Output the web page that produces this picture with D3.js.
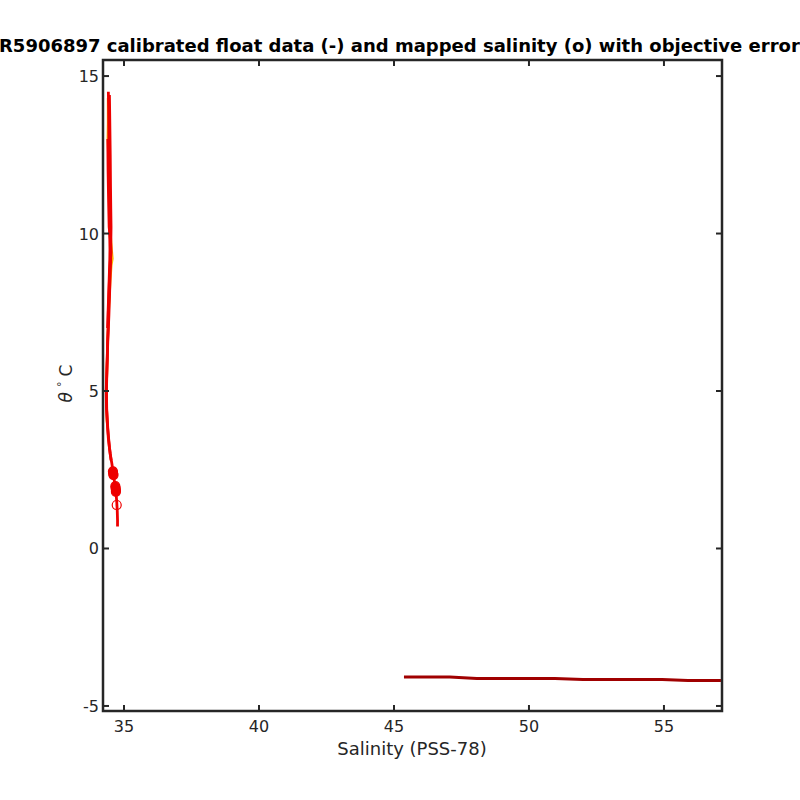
<!DOCTYPE html>
<html><head><meta charset="utf-8">
<script src="https://cdn.jsdelivr.net/npm/d3@7"></script>
<style>body{margin:0;background:#fff}svg{display:block}text{font-family:"DejaVu Sans",sans-serif;fill:#262626}</style>
</head><body><svg id="c" width="800" height="800"></svg>
<script>
const titleText = "R5906897 calibrated float data (-) and mapped salinity (o) with objective errors";
const xLabel = "Salinity (PSS-78)";
const xTicks = [35, 40, 45, 50, 55];
const yTicks = [-5, 0, 5, 10, 15];

// float profiles (theta, salinity)
const orangeTheta = [14.3, 13.5, 13.0, 12.0, 11.0, 10.0, 9.5, 9.2, 9.0, 8.5, 7.5, 6.5, 5.0, 4.0];
const orangeSal   = [34.41, 34.41, 34.40, 34.44, 34.47, 34.50, 34.54, 34.57, 34.53, 34.49, 34.43, 34.39, 34.35, 34.37];
const redATheta = [14.5, 14.0, 13.0, 12.0, 11.0, 10.5, 10.0, 9.5, 9.0, 8.5, 8.0, 7.5, 7.0, 6.5, 6.0, 5.5, 5.0, 4.5, 4.0, 3.5, 3.0, 2.7, 2.4, 2.1, 1.9, 1.7, 1.5, 1.2, 0.9, 0.7];
const redASal   = [34.42, 34.43, 34.44, 34.45, 34.46, 34.46, 34.47, 34.48, 34.47, 34.46, 34.44, 34.42, 34.41, 34.39, 34.38, 34.36, 34.34, 34.35, 34.38, 34.42, 34.49, 34.55, 34.60, 34.65, 34.69, 34.71, 34.73, 34.75, 34.76, 34.76];
const redBTheta = [14.4, 13.8, 12.5, 11.5, 10.8, 10.2, 9.6, 9.0, 8.2, 7.4, 6.6, 5.8, 5.0, 4.4, 3.8, 3.2, 2.8];
const redBSal   = [34.46, 34.47, 34.49, 34.50, 34.51, 34.52, 34.51, 34.50, 34.47, 34.44, 34.40, 34.37, 34.35, 34.36, 34.40, 34.46, 34.52];
const redCTheta = [13.0, 12.0, 11.0, 10.2, 9.8, 9.4, 8.8, 8.0, 7.0];
const redCSal   = [34.40, 34.41, 34.43, 34.45, 34.50, 34.52, 34.46, 34.43, 34.39];

// bad profile near the bottom
const badTheta = [-4.08, -4.08, -4.13, -4.13, -4.16, -4.16, -4.19, -4.19];
const badSal   = [45.37, 47.07, 48.07, 50.96, 52.0, 54.93, 55.89, 57.11];

// mapped salinity with objective errors
const mapTheta = [2.45, 2.38, 2.33, 1.98, 1.92, 1.86, 1.80, 1.38];
const mapSal   = [34.59, 34.60, 34.61, 34.68, 34.69, 34.70, 34.70, 34.73];
const mapErr   = [0.03, 0.03, 0.03, 0.03, 0.03, 0.03, 0.03, 0.03];

const svg = d3.select("#c");
const L = 103, R = 722, T = 60, B = 711;
const x = d3.scaleLinear().domain([34.222, 57.15]).range([L, R]);
const y = d3.scaleLinear().domain([-5.16, 15.51]).range([B, T]);

svg.append("defs").append("clipPath").attr("id", "clip")
  .append("rect").attr("x", L).attr("y", T).attr("width", R - L).attr("height", B - T);

const g = svg.append("g").attr("clip-path", "url(#clip)");
const line = d3.line().x(d => x(d[1])).y(d => y(d[0]));
const zip = (a, b) => a.map((v, i) => [v, b[i]]);

g.append("path").datum(zip(orangeTheta, orangeSal)).attr("d", line)
  .attr("fill", "none").attr("stroke", "#ffb000").attr("stroke-width", 2.5);
[[redBTheta, redBSal], [redCTheta, redCSal], [redATheta, redASal]].forEach(([t, s]) => {
  g.append("path").datum(zip(t, s)).attr("d", line)
    .attr("fill", "none").attr("stroke", "#ee0000").attr("stroke-width", 2.8);
});
g.append("path").datum(zip(badTheta, badSal)).attr("d", line)
  .attr("fill", "none").attr("stroke", "#a00000").attr("stroke-width", 3);

// mapped salinity markers
mapTheta.forEach((t, i) => {
  const s = mapSal[i], e = mapErr[i];
  g.append("line").attr("x1", x(s - e)).attr("x2", x(s + e)).attr("y1", y(t)).attr("y2", y(t))
    .attr("stroke", "#ee0000").attr("stroke-width", 1.2);
  g.append("circle").attr("cx", x(s)).attr("cy", y(t)).attr("r", 4.5)
    .attr("fill", i < 7 ? "#ee0000" : "none").attr("stroke", "#ee0000").attr("stroke-width", 1.2);
});

// axes box
const ax = svg.append("g");
const tl = 6;
xTicks.forEach(v => {
  ax.append("line").attr("x1", x(v)).attr("x2", x(v)).attr("y1", B).attr("y2", B - tl).attr("stroke", "#262626").attr("stroke-width", 2);
  ax.append("line").attr("x1", x(v)).attr("x2", x(v)).attr("y1", T).attr("y2", T + tl).attr("stroke", "#262626").attr("stroke-width", 2);
  ax.append("text").attr("x", x(v)).attr("y", 732).attr("text-anchor", "middle").attr("font-size", 16).text(v);
});
yTicks.forEach(v => {
  ax.append("line").attr("x1", L).attr("x2", L + tl).attr("y1", y(v)).attr("y2", y(v)).attr("stroke", "#262626").attr("stroke-width", 2);
  ax.append("line").attr("x1", R).attr("x2", R - tl).attr("y1", y(v)).attr("y2", y(v)).attr("stroke", "#262626").attr("stroke-width", 2);
  ax.append("text").attr("x", L - 4).attr("y", y(v) + 6).attr("text-anchor", "end").attr("font-size", 16).text(v);
});
ax.append("rect").attr("x", L).attr("y", T).attr("width", R - L).attr("height", B - T)
  .attr("fill", "none").attr("stroke", "#262626").attr("stroke-width", 2.5);

svg.append("text").attr("x", 412).attr("y", 755).attr("text-anchor", "middle").attr("font-size", 18).text(xLabel);
const yl = svg.append("text").attr("transform", "translate(72," + ((T + B) / 2 - 2) + ") rotate(-90)")
  .attr("text-anchor", "middle").attr("font-size", 17);
yl.append("tspan").attr("font-style", "italic").text("θ");
yl.append("tspan").attr("font-size", 11).attr("dy", -7).attr("dx", 5).text("°");
yl.append("tspan").attr("dy", 7).attr("dx", 5).text("C");

svg.append("text").attr("x", -1).attr("y", 52).attr("font-size", 18).attr("font-weight", "bold")
  .style("fill", "#000").text(titleText);
</script></body></html>
